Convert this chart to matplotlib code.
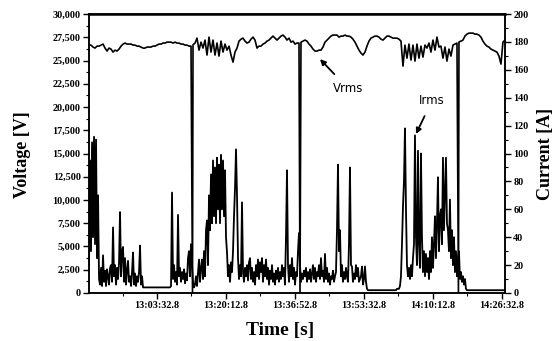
import numpy as np
import matplotlib
matplotlib.use("Agg")
import matplotlib.pyplot as plt
from matplotlib.ticker import FuncFormatter, MultipleLocator, FixedLocator

# ---------------- data ----------------
# time axis in seconds, 0 s = 12:46:52.8
x_tick_seconds = [1000, 2000, 3000, 4000, 5000, 6000]
x_tick_labels = ["13:03:32.8", "13:20:12.8", "13:36:52.8", "13:53:32.8", "14:10:12.8", "14:26:32.8"]

# Vrms [V], sampled every 29 s starting at 14.5 s
vrms_start_s = 14.5
vrms_step_s = 29.0
vrms_v = [
    26660, 26660, 26450, 26340, 26550, 26550, 26660, 26770, 26340, 26020,
    26340, 26230, 25910, 26120, 26020, 26230, 26550, 26770, 26880, 26770,
    26770, 26770, 26660, 26660, 26550, 26550, 26450, 26340, 26340, 26450,
    26450, 26450, 26550, 26550, 26660, 26770, 26770, 26880, 26880, 26980,
    26980, 26980, 26880, 26980, 26880, 26880, 26770, 26770, 26660, 26660,
    26550, 26550, 26700, 26880, 27410, 26120, 26980, 26340, 27200, 25590,
    27520, 25910, 27200, 25590, 26880, 25480, 27090, 25910, 26770, 26120,
    26550, 25590, 24830, 25910, 26340, 27090, 27300, 27410, 27090, 26880,
    26980, 27300, 27520, 27200, 26340, 26550, 26550, 26770, 26880, 27090,
    27200, 27410, 27630, 27410, 27200, 27410, 27630, 27740, 27520, 27200,
    27410, 26980, 27090, 26770, 26880, 26880, 26980, 27090, 27200, 27090,
    26770, 26550, 26230, 26020, 26020, 26120, 26120, 26450, 26980, 27200,
    27410, 27630, 27740, 27740, 27740, 27520, 27630, 27630, 27740, 27630,
    27630, 27520, 27300, 26980, 26550, 26120, 25800, 25590, 25910, 26550,
    27090, 27410, 27520, 27630, 27630, 27520, 27300, 27200, 27410, 27630,
    27630, 27520, 27410, 27410, 27410, 27300, 27090, 24400, 26660, 25260,
    26770, 25050, 26660, 24940, 26770, 25260, 26550, 25370, 26660, 26340,
    26880, 25910, 27200, 26120, 27520, 26450, 26550, 25260, 26450, 24940,
    26230, 25480, 26660, 26770, 26880, 27000, 27090, 27200, 27630, 27840,
    27950, 27950, 27950, 27840, 27840, 27740, 27520, 27090, 26770, 26550,
    26450, 26230, 26120, 26020, 25910, 25480, 24620, 26980, 27200,
]
# moments where Vrms momentarily fell to 0 V
vrms_outage_s = [1515, 3074, 5372]
vrms_outage_v = [0, 0, 0]

# Irms [A], sampled every 14.5 s starting at 14.5 s
irms_start_s = 14.5
irms_step_s = 14.5
irms_a = [
    20, 95, 30, 108, 40, 112, 35, 110, 25, 70,
    10, 6, 18, 5, 27, 8, 16, 5, 17, 12,
    6, 18, 20, 8, 47, 12, 20, 6, 18, 10,
    22, 58, 12, 30, 33, 8, 25, 6, 16, 23,
    8, 12, 5, 15, 29, 6, 14, 5, 12, 8,
    15, 34, 6, 12, 4, 4, 4, 4, 4, 4,
    4, 4, 4, 4, 4, 4, 4, 4, 4, 4,
    4, 4, 4, 4, 4, 4, 4, 4, 4, 4,
    4, 4, 5, 72, 10, 20, 8, 15, 6, 56,
    12, 18, 8, 15, 10, 17, 7, 14, 9, 25,
    30, 12, 35, 20, 8, 4, 6, 12, 5, 15,
    24, 8, 18, 24, 10, 30, 12, 45, 52, 20,
    70, 45, 85, 50, 95, 55, 90, 50, 97, 60,
    92, 50, 99, 60, 95, 55, 88, 40, 29, 12,
    20, 8, 22, 15, 30, 55, 75, 103, 70, 25,
    10, 20, 12, 65, 15, 8, 18, 12, 20, 9,
    22, 25, 10, 18, 8, 15, 6, 20, 12, 24,
    10, 22, 15, 25, 8, 20, 12, 24, 10, 18,
    6, 16, 10, 20, 8, 14, 6, 16, 10, 18,
    8, 15, 10, 20, 12, 18, 6, 40, 88, 20,
    8, 20, 12, 25, 10, 18, 6, 15, 12, 30,
    43, 20, 8, 14, 10, 16, 12, 18, 8, 15,
    10, 17, 8, 14, 20, 10, 18, 8, 15, 12,
    20, 10, 25, 12, 16, 8, 28, 10, 18, 8,
    14, 6, 12, 10, 16, 8, 12, 15, 45, 92,
    30, 45, 12, 20, 8, 15, 10, 18, 12, 8,
    35, 90, 20, 19, 8, 14, 10, 20, 12, 18,
    8, 10, 12, 19, 6, 10, 19, 8, 3, 2,
    2, 2, 2, 2, 2, 2, 2, 2, 2, 2,
    2, 2, 2, 2, 2, 2, 2, 2, 2, 2,
    2, 2, 2, 2, 2, 2, 2, 2, 3, 3,
    3, 5, 12, 35, 62, 80, 118, 60, 20, 12,
    18, 10, 20, 12, 25, 35, 113, 40, 20, 102,
    35, 18, 100, 40, 15, 30, 12, 28, 15, 25,
    10, 30, 15, 40, 18, 35, 55, 25, 50, 83,
    30, 55, 60, 35, 97, 45, 70, 97, 50, 45,
    30, 67, 25, 45, 20, 40, 15, 30, 12, 25,
    30, 10, 15, 8, 12, 6, 10, 3, 2, 2,
    2, 2, 2, 2, 2, 2, 2, 2, 2, 2,
    2, 2, 2, 2, 2, 2, 2, 2, 2, 2,
    2, 2, 2, 2, 2, 2, 2, 2, 2, 2,
    2, 2, 2, 2, 2, 2, 2,
]

# annotation anchors (data)
vrms_note_xy = (3364, 25150)
vrms_note_text_xy = (3770, 22000)
irms_note_xy = (4756, 114)
irms_note_text_xy = (4990, 138)

# ---------------- plot ----------------
vrms_t = vrms_start_s + vrms_step_s * np.arange(len(vrms_v))
t_all = np.concatenate([vrms_t, np.asarray(vrms_outage_s, float)])
v_all = np.concatenate([np.asarray(vrms_v, float), np.asarray(vrms_outage_v, float)])
order = np.argsort(t_all, kind="stable")
t_all, v_all = t_all[order], v_all[order]

irms_t = irms_start_s + irms_step_s * np.arange(len(irms_a))

serif = ["Liberation Serif", "DejaVu Serif"]

fig = plt.figure(figsize=(5.58, 3.41), dpi=100)
ax = fig.add_axes([0.1595, 0.1408, 0.7455, 0.818])
ax2 = ax.twinx()

ax.plot(t_all, v_all, color="black", lw=1.2)
ax2.plot(irms_t, irms_a, color="black", lw=1.3)

ax.set_xlim(14, 6047)
ax.set_ylim(0, 30000)
ax2.set_ylim(0, 200)

ax.xaxis.set_major_locator(FixedLocator(x_tick_seconds))
ax.set_xticklabels(x_tick_labels)
ax.xaxis.set_minor_locator(MultipleLocator(500))
ax.yaxis.set_major_locator(MultipleLocator(2500))
ax.yaxis.set_minor_locator(MultipleLocator(1250))
ax.yaxis.set_major_formatter(FuncFormatter(lambda v, p: f"{int(v):,}"))
ax2.yaxis.set_major_locator(MultipleLocator(20))
ax2.yaxis.set_minor_locator(MultipleLocator(10))

for a in (ax, ax2):
    a.tick_params(which="major", direction="out", length=4, width=1.0, labelsize=7.3, pad=2)
    a.tick_params(which="minor", direction="out", length=2.2, width=0.8)
    for s in a.spines.values():
        s.set_linewidth(1.1)
    for lab in a.get_xticklabels() + a.get_yticklabels():
        lab.set_fontfamily(serif)
        lab.set_fontweight("bold")
ax.spines["top"].set_linewidth(1.8)

ax.set_ylabel("Voltage [V]", fontsize=13, fontweight="bold", family=serif)
ax2.set_ylabel("Current [A]", fontsize=13, fontweight="bold", family=serif)
ax.set_xlabel("Time [s]", fontsize=14, fontweight="bold", family=serif)
ax.yaxis.set_label_coords(-0.139, 0.495)
ax2.yaxis.set_label_coords(1.077, 0.5)
ax.xaxis.set_label_coords(0.459, -0.104)
ax.xaxis.label.set_va("top")

ax.annotate("Vrms", xy=vrms_note_xy, xytext=vrms_note_text_xy, fontsize=8.5,
            ha="center", va="center",
            arrowprops=dict(arrowstyle="-|>", color="black", lw=1.3, shrinkA=5, shrinkB=0,
                            mutation_scale=8))
ax2.annotate("Irms", xy=irms_note_xy, xytext=irms_note_text_xy, fontsize=8.5,
             ha="center", va="center",
             arrowprops=dict(arrowstyle="-|>", color="black", lw=1.3, shrinkA=5, shrinkB=0,
                             mutation_scale=8))

fig.savefig("out.png", dpi=100)
